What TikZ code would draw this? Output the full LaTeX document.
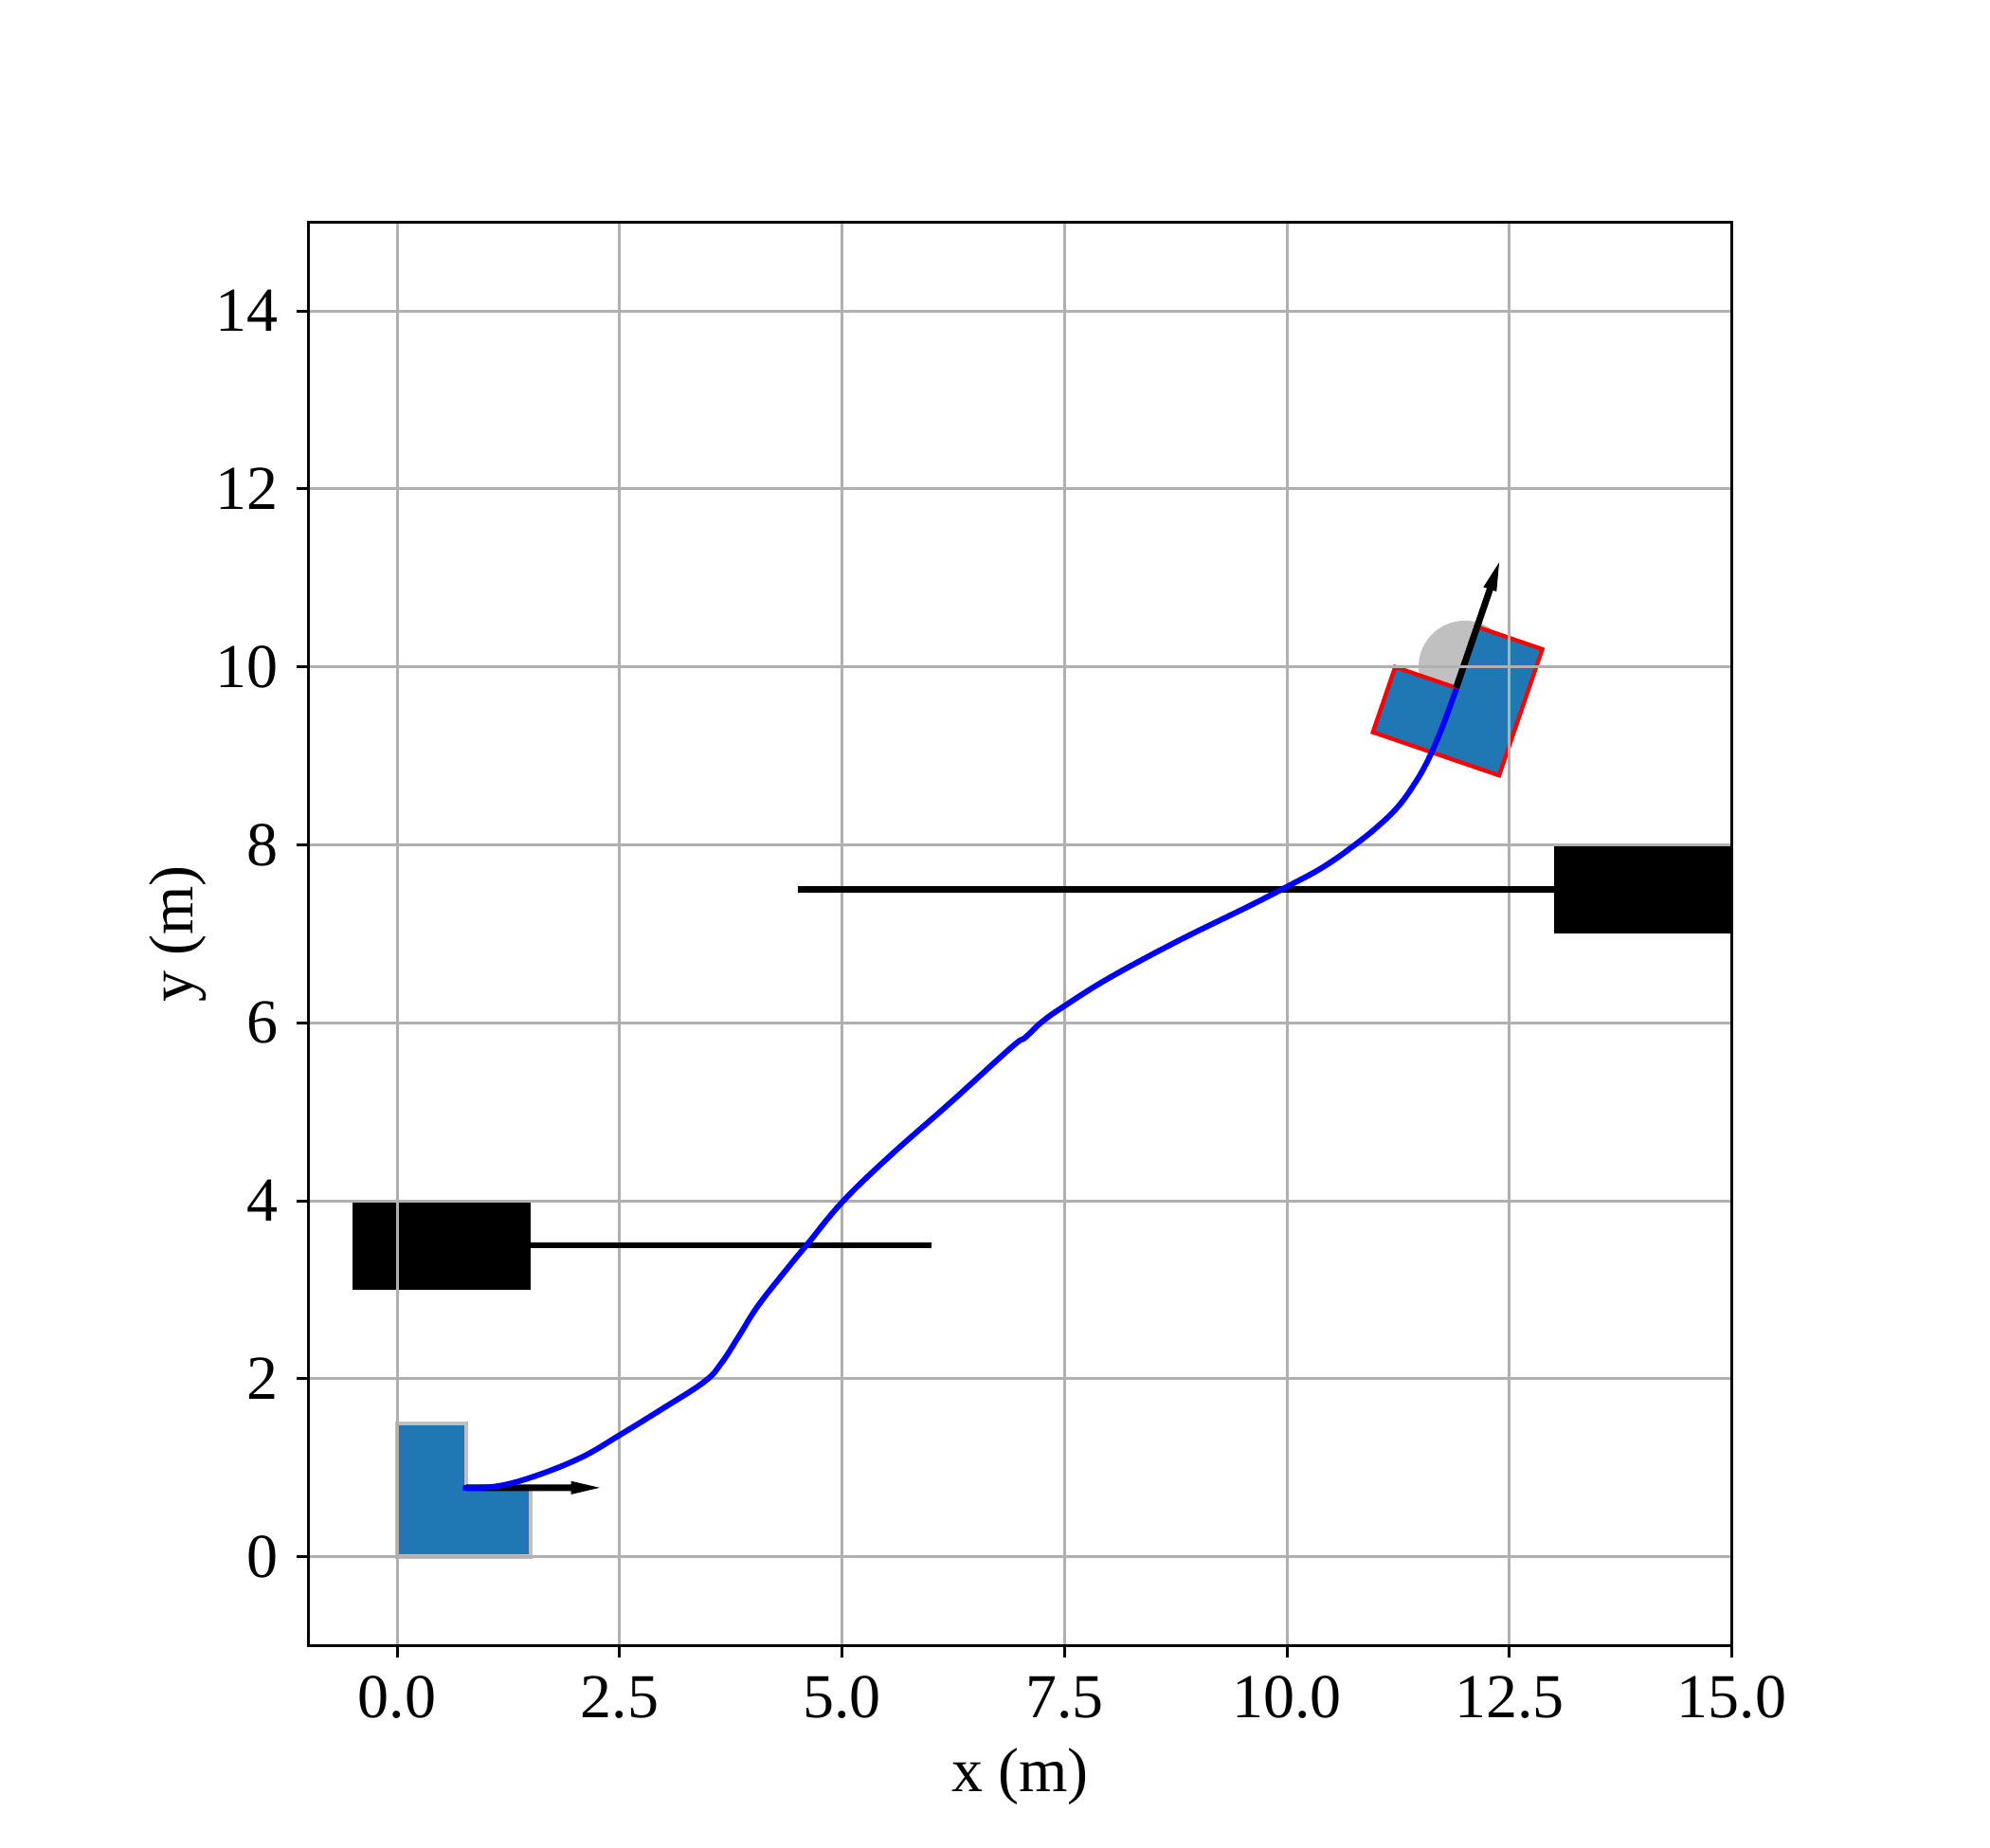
\documentclass[tikz,border=0pt]{standalone}
\usepackage{fontspec}
\setmainfont{Liberation Serif}
\definecolor{robotblue}{HTML}{1F77B4}
\definecolor{gridgray}{HTML}{B0B0B0}
\definecolor{silvergray}{HTML}{C0C0C0}
\begin{document}
\begin{tikzpicture}[x=1cm,y=1cm,
  font=\fontsize{20}{24}\selectfont,
  gridline/.style={gridgray,line width=0.9pt},
  spine/.style={black,line width=0.9pt,line cap=rect},
  tickmark/.style={black,line width=0.9pt},
  obstline/.style={black,line width=1.9pt},
  pathline/.style={blue,line width=1.8pt,line join=round,line cap=butt},
  robotfill/.style={fill=robotblue,line width=1.3pt,line join=miter},
  headarrow/.style={fill=black},
  ticklabel/.style={inner sep=0pt}]
\useasboundingbox (-4.465,-3.265) rectangle (17.903,17.496);

\begin{scope}
\clip (-1,-1) rectangle (15,15);
% goal disc
\fill[silvergray] (12,10) circle (0.52);
% end robot
\begin{scope}[shift={(11.903,9.765)},rotate=71.1]
\filldraw[robotfill,draw=red] (-0.775,-0.775) -- (0.725,-0.775) -- (0.725,0) -- (0,0) -- (0,0.725) -- (-0.775,0.725) -- cycle;
\end{scope}
% start robot
\begin{scope}[shift={(0.775,0.775)}]
\filldraw[robotfill,draw=silvergray] (-0.775,-0.775) -- (0.725,-0.775) -- (0.725,0) -- (0,0) -- (0,0.725) -- (-0.775,0.725) -- cycle;
\end{scope}
% obstacles
\fill[black] (-0.5,3) rectangle (1.5,4);
\fill[black] (13,7) rectangle (15,8);
% heading arrows
\begin{scope}[shift={(0.775,0.775)}]
\fill[headarrow] (0,-0.037) -- (1.18,-0.037) -- (1.18,-0.075) -- (1.5,0) -- (1.18,0.075) -- (1.18,0.037) -- (0,0.037) -- cycle;
\end{scope}
\begin{scope}[shift={(11.903,9.765)},rotate=71.1]
\fill[headarrow] (0,-0.037) -- (1.17,-0.037) -- (1.17,-0.078) -- (1.49,0) -- (1.17,0.078) -- (1.17,0.037) -- (0,0.037) -- cycle;
\end{scope}
% grid
\foreach \x in {0,2.5,5,7.5,10,12.5,15} {\draw[gridline] (\x,-1) -- (\x,15);}
\foreach \y in {0,2,...,14} {\draw[gridline] (-1,\y) -- (15,\y);}
% obstacle lines
\draw[obstline] (1.5,3.5) -- (6,3.5);
\draw[obstline] (4.5,7.5) -- (13,7.5);
% trajectory
\draw[pathline] plot[smooth,tension=0.65] coordinates {
(0.738,0.776) (1.108,0.790) (1.534,0.901) (2.066,1.114) (2.492,1.362)
(2.954,1.646) (3.451,1.966) (3.646,2.179) (3.841,2.480) (4.054,2.818)
(4.374,3.226) (4.622,3.527) (5.005,3.989) (5.538,4.504) (6.222,5.107)
(6.907,5.728) (7.059,5.835) (7.249,6.013) (7.515,6.200) (8.010,6.509)
(8.771,6.918) (9.531,7.291) (10.018,7.539) (10.409,7.752) (10.764,8.000)
(11.048,8.231) (11.261,8.444) (11.438,8.692) (11.580,8.941) (11.722,9.261)
(11.829,9.544) (11.906,9.757)};
\end{scope}

% axes frame
\draw[spine] (-1,-1) rectangle (15,15);
% x ticks
\foreach \x/\l [count=\i] in {0/0.0,2.5/2.5,5/5.0,7.5/7.5,10/10.0,12.5/12.5,15/15.0} {
  \draw[tickmark] (\x,-1) -- (\x,-1.135);
  \node[ticklabel,anchor=base] (xt\i) at (\x,-1.808) {\l};
}
% y ticks
\foreach \y [count=\i] in {0,2,...,14} {
  \draw[tickmark] (-1,\y) -- (-1.135,\y);
  \node[ticklabel,anchor=east] (yt\i) at (-1.33,\y) {\y};
}
% axis labels
\node[anchor=base] (xlab) at (7,-2.64) {x (m)};
\node[anchor=base,rotate=90] (ylab) at (-2.30,7) {y (m)};
\end{tikzpicture}
\end{document}
